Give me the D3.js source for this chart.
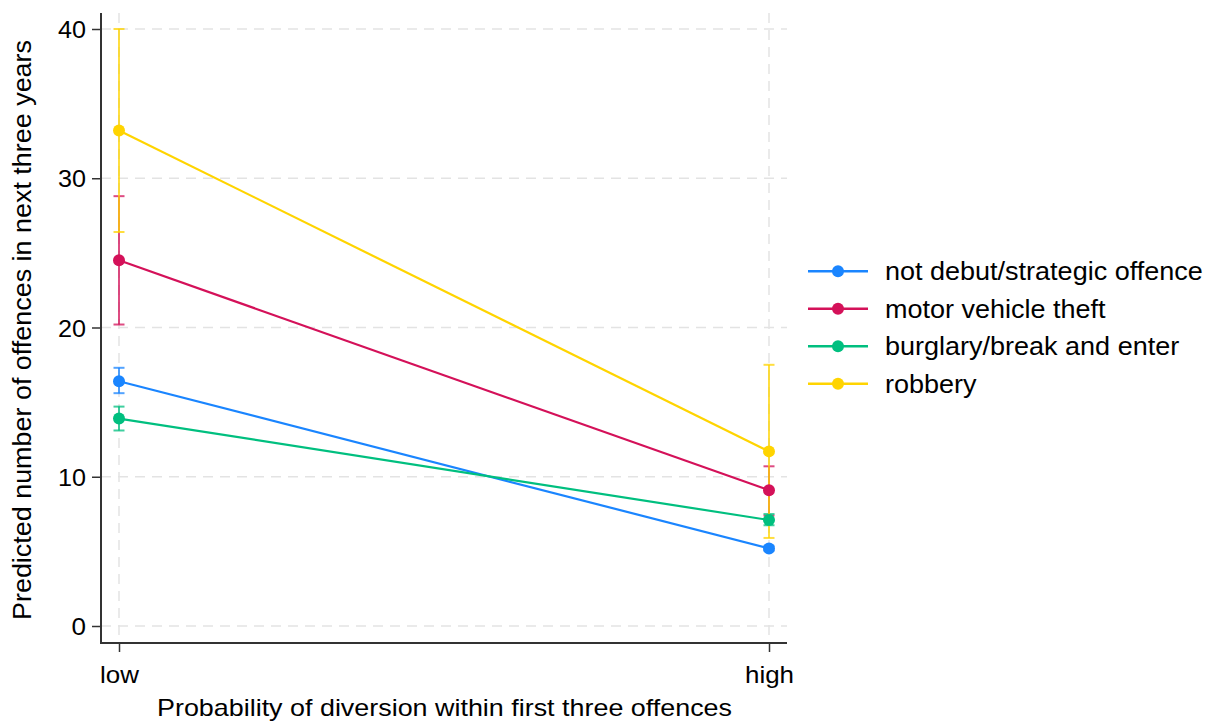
<!DOCTYPE html>
<html><head><meta charset="utf-8">
<script src="https://cdn.jsdelivr.net/npm/d3@7"></script>
<style>body{margin:0;background:#fff}svg{display:block}text{font-family:Arial,"Liberation Sans",sans-serif}</style>
</head><body><svg id="c" width="1206" height="722"></svg>
<script>
const categories = ["low", "high"];
const seriesNames = ["not debut/strategic offence", "motor vehicle theft", "burglary/break and enter", "robbery"];
const seriesColors = ["#1a85ff", "#d41159", "#00bf7f", "#ffd400"];
const estLow = [16.4, 24.5, 13.9, 33.2];
const estHigh = [5.2, 9.1, 7.1, 11.7];
const ciLowLower = [15.6, 20.2, 13.1, 26.4];
const ciLowUpper = [17.3, 28.8, 14.7, 40.0];
const ciHighLower = [5.05, 7.4, 6.75, 5.9];
const ciHighUpper = [5.35, 10.7, 7.5, 17.5];
const yTicks = [0, 10, 20, 30, 40];

(function () {
const svg = d3.select("#c");
const x = d3.scalePoint().domain(categories).range([119, 769]);
const y = d3.scaleLinear().domain([0, 40]).range([626, 29]);
const pLeft = 101, pRight = 787, pTop = 13, pBottom = 643;
const stretch = 1.08;

// grid
const g = svg.append("g");
g.selectAll("line.h").data(yTicks).join("line")
  .attr("x1", pLeft).attr("x2", pRight).attr("y1", d => y(d)).attr("y2", d => y(d))
  .attr("stroke", "#e3e3e3").attr("stroke-width", 1.5).attr("stroke-dasharray", "10,7");
g.selectAll("line.v").data(categories).join("line")
  .attr("y1", pTop).attr("y2", pBottom).attr("x1", d => x(d)).attr("x2", d => x(d))
  .attr("stroke", "#e3e3e3").attr("stroke-width", 1.5).attr("stroke-dasharray", "10,7");

// axes
const yAxis = d3.axisLeft(y).tickValues(yTicks).tickSize(9).tickPadding(6);
const ya = svg.append("g").attr("transform", `translate(${pLeft},0)`).call(yAxis);
ya.select(".domain").remove();
ya.selectAll(".tick line").attr("stroke", "#333").attr("stroke-width", 1.5);
ya.selectAll(".tick text").attr("font-size", 24).attr("fill", "#000").attr("dy", "0.36em")
  .attr("textLength", 28).attr("lengthAdjust", "spacingAndGlyphs");
ya.selectAll(".tick").filter(d => d === 0).select("text").attr("textLength", 14.5);

const xAxis = d3.axisBottom(x).tickSize(9).tickPadding(14);
const xa = svg.append("g").attr("transform", `translate(0,${pBottom})`).call(xAxis);
xa.select(".domain").remove();
xa.selectAll(".tick line").attr("stroke", "#333").attr("stroke-width", 1.5);
xa.selectAll(".tick text").attr("font-size", 24).attr("fill", "#000")
  .each(function () { this.setAttribute("textLength", this.getComputedTextLength() * stretch); })
  .attr("lengthAdjust", "spacingAndGlyphs");

svg.append("line").attr("x1", pLeft).attr("x2", pLeft).attr("y1", pTop).attr("y2", pBottom + 1)
  .attr("stroke", "#333").attr("stroke-width", 2);
svg.append("line").attr("x1", pLeft).attr("x2", pRight).attr("y1", pBottom).attr("y2", pBottom)
  .attr("stroke", "#333").attr("stroke-width", 2);

// titles
svg.append("text").attr("x", 444.5).attr("y", 716).attr("text-anchor", "middle")
  .attr("font-size", 24).attr("textLength", 575).attr("lengthAdjust", "spacingAndGlyphs")
  .text("Probability of diversion within first three offences");
svg.append("text").attr("transform", "translate(31,330) rotate(-90)").attr("text-anchor", "middle")
  .attr("font-size", 25).attr("textLength", 580).attr("lengthAdjust", "spacingAndGlyphs")
  .text("Predicted number of offences in next three years");

// series
const series = seriesNames.map((n, i) => ({
  name: n, color: seriesColors[i],
  pts: [
    {c: categories[0], v: estLow[i], lo: ciLowLower[i], hi: ciLowUpper[i]},
    {c: categories[1], v: estHigh[i], lo: ciHighLower[i], hi: ciHighUpper[i]}
  ]
}));
const line = d3.line().x(d => x(d.c)).y(d => y(d.v));
series.forEach(s => {
  const sg = svg.append("g");
  sg.selectAll("line.ci").data(s.pts).join("line")
    .attr("x1", d => x(d.c)).attr("x2", d => x(d.c)).attr("y1", d => y(d.lo)).attr("y2", d => y(d.hi))
    .attr("stroke", s.color).attr("stroke-width", 2).attr("opacity", 0.75);
  ["lo", "hi"].forEach(k => {
    sg.append("g").selectAll("line").data(s.pts).join("line")
      .attr("x1", d => x(d.c) - 5.5).attr("x2", d => x(d.c) + 5.5).attr("y1", d => y(d[k])).attr("y2", d => y(d[k]))
      .attr("stroke", s.color).attr("stroke-width", 2).attr("opacity", 0.75);
  });
});
series.forEach(s => {
  svg.append("path").datum(s.pts).attr("d", line).attr("fill", "none")
    .attr("stroke", s.color).attr("stroke-width", 2.2);
  svg.append("g").selectAll("circle").data(s.pts).join("circle")
    .attr("cx", d => x(d.c)).attr("cy", d => y(d.v)).attr("r", 6).attr("fill", s.color);
});

// legend
const lg = svg.append("g");
const ly = d3.scalePoint().domain(seriesNames).range([271.3, 383.7]);
const items = lg.selectAll("g").data(series).join("g").attr("transform", d => `translate(0,${ly(d.name)})`);
items.append("line").attr("x1", 808).attr("x2", 868).attr("stroke", d => d.color).attr("stroke-width", 2.5);
items.append("circle").attr("cx", 838).attr("r", 6).attr("fill", d => d.color);
items.append("text").attr("x", 885).attr("y", 9).attr("font-size", 25).text(d => d.name)
  .each(function () { this.setAttribute("textLength", this.getComputedTextLength() * stretch); })
  .attr("lengthAdjust", "spacingAndGlyphs");
})();
</script></body></html>
